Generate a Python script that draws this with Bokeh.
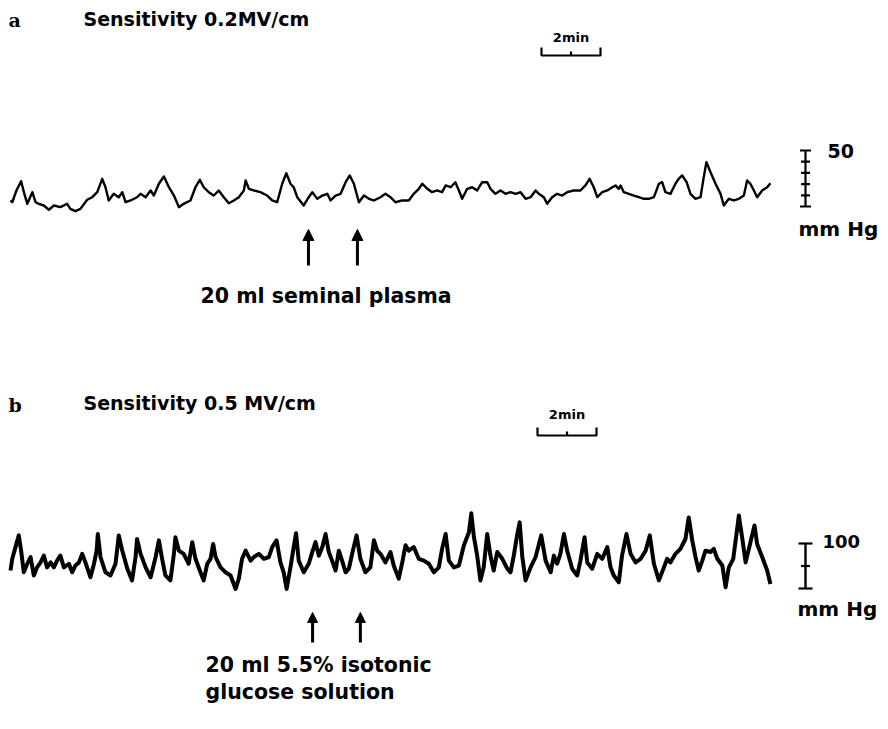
from bokeh.plotting import figure
from bokeh.models import Range1d, Arrow, NormalHead
from bokeh.embed import file_html
from bokeh.resources import INLINE
from bokeh.core.properties import value

# ---- data (time in minutes, pressure in mm Hg) ----
time_a = [0.00, 0.06, 0.20, 0.36, 0.47, 0.57, 0.74, 0.85, 0.96, 1.13, 1.30, 1.47, 1.69, 1.92, 2.03, 2.20,
          2.37, 2.60, 2.77, 2.94, 3.11, 3.22, 3.33, 3.50, 3.67, 3.79, 3.90, 4.07, 4.29, 4.41, 4.58, 4.75,
          4.86, 5.03, 5.20, 5.37, 5.54, 5.71, 5.87, 6.10, 6.27, 6.42, 6.55, 6.72, 6.89, 7.06, 7.23, 7.40,
          7.57, 7.74, 7.91, 7.97, 8.08, 8.25, 8.47, 8.70, 8.87, 9.04, 9.21, 9.35, 9.49, 9.60, 9.72, 9.94,
          10.11, 10.23, 10.40, 10.57, 10.74, 10.85, 11.02, 11.19, 11.36, 11.50, 11.64, 11.81, 11.98, 12.15,
          12.32, 12.54, 12.71, 12.88, 13.05, 13.28, 13.50, 13.67, 13.84, 13.96, 14.13, 14.29, 14.46, 14.63,
          14.75, 14.92, 15.08, 15.20, 15.31, 15.48, 15.65, 15.82, 15.99, 16.16, 16.27, 16.44, 16.61, 16.78,
          16.95, 17.12, 17.29, 17.46, 17.63, 17.80, 17.91, 18.08, 18.19, 18.36, 18.53, 18.70, 18.87, 19.09,
          19.32, 19.49, 19.63, 19.77, 19.89, 20.06, 20.23, 20.40, 20.51, 20.62, 20.68, 20.79, 20.96, 21.13,
          21.30, 21.47, 21.64, 21.81, 21.98, 22.09, 22.20, 22.37, 22.54, 22.65, 22.77, 22.92, 23.05, 23.22,
          23.39, 23.50, 23.59, 23.73, 23.90, 24.07, 24.18, 24.35, 24.52, 24.69, 24.86, 24.97, 25.08, 25.20,
          25.31, 25.48, 25.65, 25.76]
pressure_a = [5.4, 3.8, 14.3, 22.6, 11.3, 2.4, 12.8, 3.8, 2.4, 0.9, -2.9, 0.9, -0.6, 2.4, -2.1, -4.2,
              -2.1, 6.0, 8.3, 12.8, 24.7, 17.2, 5.4, 11.3, 8.3, 12.8, 3.8, 5.4, 8.3, 11.3, 8.3, 14.3,
              9.8, 20.3, 26.8, 17.2, 9.8, -0.6, 2.4, 5.4, 17.2, 23.8, 17.2, 12.8, 9.8, 14.3, 8.3, 2.9,
              5.4, 8.3, 14.3, 23.2, 15.8, 14.3, 12.8, 9.8, 5.4, 3.8, 20.3, 29.7, 20.3, 17.2, 8.3, 0.9,
              8.3, 12.8, 6.9, 9.8, 11.3, 5.4, 9.8, 11.3, 21.7, 27.7, 20.3, 3.8, 9.8, 6.9,
              5.4, 8.3, 11.3, 8.3, 3.8, 5.4, 5.4, 11.3, 15.8, 20.3, 15.8, 12.8, 14.3, 12.8,
              18.8, 17.2, 21.7, 14.3, 6.9, 15.8, 17.2, 14.3, 21.7, 21.7, 15.8, 11.3, 14.3, 11.3,
              12.8, 11.3, 12.8, 6.9, 8.3, 14.3, 11.3, 8.3, 2.4, 8.3, 11.3, 9.8, 12.8, 14.3,
              14.3, 18.8, 24.7, 17.2, 8.3, 12.8, 14.3, 17.2, 18.8, 15.8, 18.8, 12.8, 11.3, 9.8,
              8.3, 6.9, 6.9, 8.3, 20.3, 21.7, 12.8, 11.3, 20.3, 24.7, 27.7, 21.7, 11.3, 6.9,
              8.3, 26.2, 39.6, 30.6, 20.3, 11.3, 0.9, 6.9, 5.4, 6.9, 9.8, 23.2, 20.3, 14.3,
              8.3, 14.3, 17.2, 20.7]

time_b = [0.00, 0.06, 0.17, 0.28, 0.36, 0.45, 0.57, 0.68, 0.79, 0.90, 1.02, 1.13, 1.24, 1.36, 1.47, 1.58,
          1.69, 1.81, 1.98, 2.09, 2.20, 2.32, 2.43, 2.54, 2.71, 2.83, 2.92, 2.96, 3.05, 3.22, 3.39, 3.56,
          3.67, 3.79, 3.96, 4.12, 4.24, 4.29, 4.41, 4.58, 4.75, 4.92, 5.03, 5.14, 5.25, 5.42, 5.54, 5.59,
          5.71, 5.87, 6.04, 6.16, 6.27, 6.44, 6.55, 6.67, 6.78, 6.87, 6.95, 7.12, 7.29, 7.46, 7.63, 7.74,
          7.85, 7.97, 8.14, 8.25, 8.42, 8.59, 8.76, 8.87, 9.02, 9.15, 9.26, 9.36, 9.49, 9.60, 9.68, 9.77,
          9.94, 10.11, 10.23, 10.34, 10.45, 10.57, 10.68, 10.79, 10.90, 11.02, 11.13, 11.24, 11.36, 11.47,
          11.58, 11.73, 11.86, 12.03, 12.20, 12.32, 12.43, 12.54, 12.71, 12.88, 12.99, 13.16, 13.28, 13.39,
          13.50, 13.67, 13.84, 14.01, 14.18, 14.35, 14.52, 14.63, 14.75, 14.86, 15.03, 15.20, 15.37, 15.54,
          15.62, 15.71, 15.82, 15.93, 16.04, 16.16, 16.27, 16.38, 16.50, 16.67, 16.84, 16.95, 17.06, 17.18,
          17.26, 17.35, 17.46, 17.63, 17.80, 17.99, 18.14, 18.31, 18.42, 18.53, 18.64, 18.76, 18.87, 19.04,
          19.21, 19.32, 19.46, 19.55, 19.72, 19.89, 20.06, 20.23, 20.34, 20.45, 20.62, 20.73, 20.88, 21.02,
          21.19, 21.36, 21.53, 21.67, 21.81, 21.98, 22.15, 22.26, 22.37, 22.54, 22.71, 22.88, 22.99, 23.11,
          23.22, 23.33, 23.45, 23.56, 23.73, 23.84, 23.96, 24.13, 24.24, 24.35, 24.50, 24.61, 24.69, 24.80,
          24.92, 25.03, 25.15, 25.22, 25.31, 25.48, 25.65, 25.76]
pressure_b = [40, 66, 92, 118, 84, 36, 55, 70, 29, 47, 58, 73, 47, 58, 47, 62,
              73, 47, 55, 36, 51, 58, 77, 58, 25, 55, 84, 121, 70, 36, 29, 55,
              118, 84, 44, 18, 70, 110, 77, 47, 25, 70, 107, 66, 29, 18, 77, 114,
              84, 77, 55, 103, 66, 36, 18, 55, 66, 99, 70, 47, 36, 29, -1, 22,
              66, 84, 62, 70, 77, 66, 70, 92, 107, 58, 36, -1, 47, 92, 123, 62,
              36, 55, 81, 103, 73, 92, 121, 81, 62, 40, 84, 62, 36, 44,
              77, 118, 66, 36, 47, 107, 84, 77, 58, 81, 51, 22, 58, 96,
              84, 92, 66, 62, 55, 36, 47, 88, 121, 62, 47, 51, 96, 125,
              167, 114, 73, 18, 47, 121, 73, 40, 81, 66, 44, 36, 73, 121,
              147, 70, 18, 47, 70, 118, 62, 36, 73, 55, 77, 121, 84, 44,
              29, 62, 114, 58, 44, 77, 66, 92, 47, 29, 14, 73, 121, 77,
              58, 66, 84, 118, 55, 18, 47, 66, 58, 77, 88, 110, 158, 107,
              70, 40, 62, 84, 81, 88, 66, 51, 3, 47, 66, 121, 162, 114,
              58, 88, 121, 140, 99, 70, 40, 10]

injections_a = [10.10, 11.76]      # minutes, 20 ml seminal plasma
injections_b = [10.24, 11.86]      # minutes, 20 ml 5.5 % glucose
time_bar_ticks = [0, 1, 2]         # 2 min calibration bar
pressure_ticks_a = [0, 10, 20, 30, 40, 50]
pressure_ticks_b = [0, 50, 100]

# ---- layout helpers (page pixel -> data units) ----
W, H = 880, 721
PX_PER_MIN = 29.5
X0 = 10
A_ZERO, A_PX = 206, 1.12
B_ZERO, B_PX = 588, 0.45


def X(px):
    return (px - X0) / PX_PER_MIN


def YA(py):
    return (A_ZERO - py) / A_PX


def YB(py):
    return (B_ZERO - py) / B_PX


p = figure(width=W, height=H, x_range=Range1d(X(0), X(W)), y_range=Range1d(YA(H), YA(0)),
           x_axis_type=None, y_axis_type=None, output_backend="svg", toolbar_location=None,
           min_border=0, outline_line_color=None, background_fill_color="white",
           border_fill_color="white")
p.extra_y_ranges = {"b": Range1d(YB(H), YB(0))}
p.grid.visible = False

# traces
p.line(time_a, pressure_a, line_width=2.4, color="black", line_join="round")
p.line(time_b, pressure_b, y_range_name="b", line_width=4, color="black", line_join="round")

# injection arrows
for t in injections_a:
    p.add_layout(Arrow(end=NormalHead(size=11, fill_color="black", line_color="black"),
                       x_start=t, y_start=YA(265), x_end=t, y_end=YA(229),
                       line_width=3, line_color="black"))
for t in injections_b:
    p.add_layout(Arrow(end=NormalHead(size=10, fill_color="black", line_color="black"),
                       x_start=t, y_start=YB(642), x_end=t, y_end=YB(612),
                       line_width=3, line_color="black", y_range_name="b"))


# 2-min calibration brackets
def time_bracket(t0, ybase, yend, ymid, rng, label_y):
    kw = {} if rng is None else {"y_range_name": rng}
    t_end = t0 + time_bar_ticks[-1]
    p.line([t0, t0, t_end, t_end], [yend, ybase, ybase, yend], line_width=2.2, color="black", **kw)
    tm = t0 + time_bar_ticks[1]
    p.segment([tm], [ybase], [tm], [ymid], line_width=2.2, color="black", **kw)
    p.text([t0 + time_bar_ticks[-1] / 2], [label_y], text=["2min"], text_align="center",
           text_baseline="middle", text_font=value("DejaVu Sans"), text_font_style="bold",
           text_font_size="13px", color="black", **kw)


time_bracket(X(541), YA(55), YA(47), YA(51), None, YA(37))
time_bracket(X(537), YB(435), YB(427), YB(431), "b", YB(414))

# pressure calibration bars
xa = X(805)
p.segment([xa], [pressure_ticks_a[0]], [xa], [pressure_ticks_a[-1]], line_width=2.2, color="black")
hw = [5.5 if v in (pressure_ticks_a[0], pressure_ticks_a[-1]) else 4.5 for v in pressure_ticks_a]
p.segment([X(805 - h) for h in hw], pressure_ticks_a, [X(805 + h) for h in hw], pressure_ticks_a,
          line_width=2.2, color="black")
xb = X(805)
p.segment([xb], [pressure_ticks_b[0]], [xb], [pressure_ticks_b[-1]], line_width=2.4,
          color="black", y_range_name="b")
hwb = [7 if v in (pressure_ticks_b[0], pressure_ticks_b[-1]) else 4.5 for v in pressure_ticks_b]
p.segment([X(805 - h) for h in hwb], pressure_ticks_b, [X(805 + h) for h in hwb], pressure_ticks_b,
          line_width=2.2, color="black", y_range_name="b")


def label(x, y, s, size="19px", font="DejaVu Sans", rng=None, align="left"):
    kw = {} if rng is None else {"y_range_name": rng}
    p.text([x], [y], text=[s], text_align=align, text_baseline="middle", text_font=value(font),
           text_font_style="bold", text_font_size=size, color="black", **kw)


label(X(8), YA(19), "a", size="19px", font="DejaVu Serif")
label(X(83), YA(18), "Sensitivity 0.2MV/cm")
label(X(827), YA(150), str(pressure_ticks_a[-1]))
label(X(798), YA(228), "mm Hg", size="20px")
label(X(200), YA(295), "20 ml seminal plasma", size="20.5px")

label(X(8), YB(404), "b", size="19px", font="DejaVu Serif", rng="b")
label(X(83), YB(402), "Sensitivity 0.5 MV/cm", rng="b")
label(X(822), YB(541), str(pressure_ticks_b[-1]), size="18px", rng="b")
label(X(797), YB(608), "mm Hg", size="20px", rng="b")
label(X(205), YB(664), "20 ml 5.5% isotonic", size="20.5px", rng="b")
label(X(205), YB(691), "glucose solution", size="20.5px", rng="b")

open("out.html", "w").write(file_html(p, INLINE))
